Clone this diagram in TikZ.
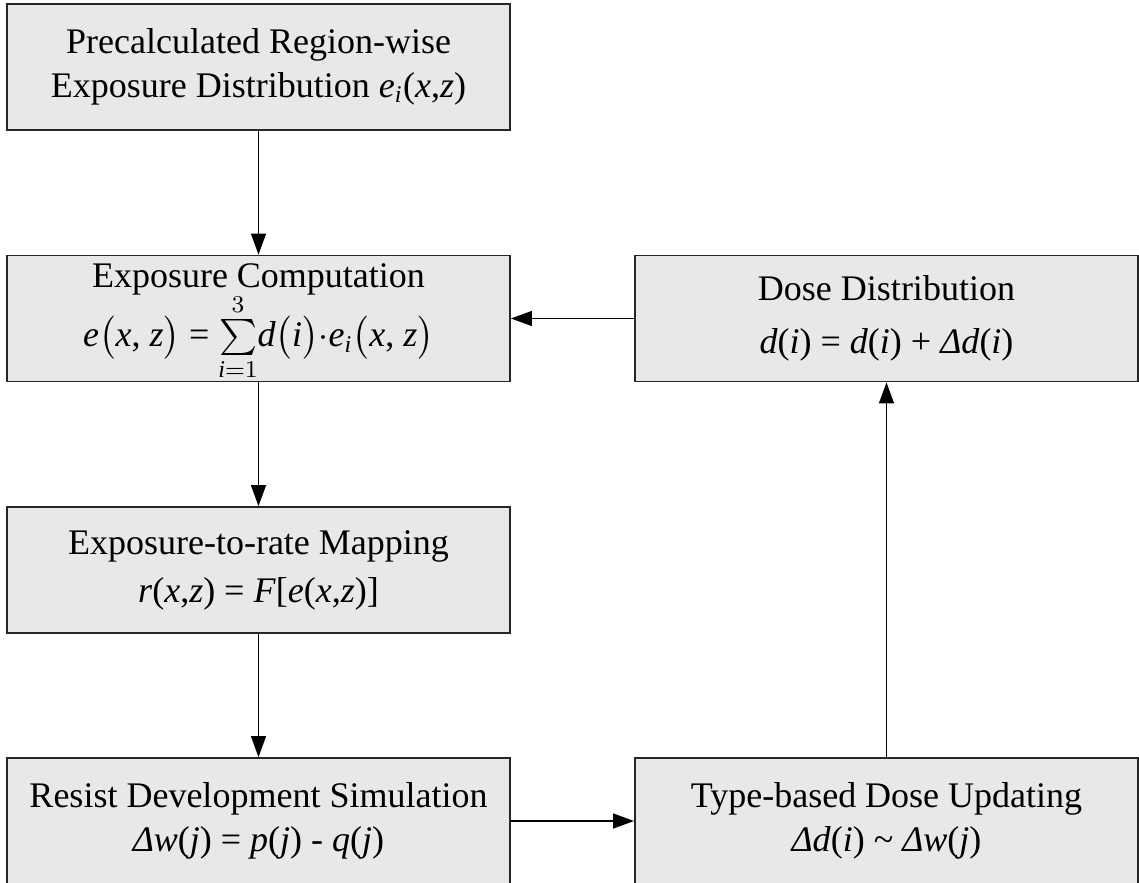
\documentclass[tikz,border=0pt,12pt]{standalone}
\usepackage{fontspec}
\setmainfont{Liberation Serif}
\usepackage{amsmath}
\usetikzlibrary{shapes,arrows.meta}

% italic symbols written as text, so they stay in the serif face
\newcommand{\iv}[1]{\textit{#1}}

\tikzset{
  block/.style={draw=black!85, line width=0.6pt, fill=black!9,
    minimum width=167.7pt, minimum height=42pt, align=center, inner sep=0pt},
  flow/.style={-{Triangle[length=7pt,width=5pt]}, line width=0.45pt},
}

\begin{document}
\begin{tikzpicture}[x=0.3333pt, y=-0.3333pt]
      % Sizes
      \pgfmathsetmacro{\colL}{258.5}
      \pgfmathsetmacro{\colR}{886.5}
      \pgfmathsetmacro{\rowA}{67}
      \pgfmathsetmacro{\rowB}{318.5}
      \pgfmathsetmacro{\rowC}{570}
      \pgfmathsetmacro{\rowD}{821}
      \useasboundingbox (0,0) rectangle (1139,883);

      % blocks
      \node[block] (pre) at (\colL, \rowA)
        {Precalculated Region-wise\\Exposure Distribution \iv{e\textsubscript{i}}(\iv{x},\iv{z})};
      % the sum line is smashed, its gap and depth are set by hand
      \node[block] (comp) at (\colL, \rowB)
        {Exposure Computation\\[5.2pt]
         \smash{\iv{e}$\bigl($\iv{x}, \iv{z}$\bigr)$ = $\sum\limits_{\iv{i}=1}^{3}$\iv{d}$\bigl($\iv{i}$\bigr)\cdot$\iv{e}\textsubscript{\iv{i}}$\bigl($\iv{x}, \iv{z}$\bigr)$}\rule[-8.8pt]{0pt}{0pt}};
      \node[block] (dose) at (\colR, \rowB)
        {Dose Distribution\\[3pt]\iv{d}(\iv{i}) = \iv{d}(\iv{i}) + \iv{Δd}(\iv{i})};
      \node[block] (map) at (\colL, \rowC)
        {Exposure-to-rate Mapping\\[1.5pt]\iv{r}(\iv{x},\iv{z}) = \iv{F}[\iv{e}(\iv{x},\iv{z})]};
      \node[block] (sim) at (\colL, \rowD)
        {Resist Development Simulation\\\iv{Δw}(\iv{j}) = \iv{p}(\iv{j}) - \iv{q}(\iv{j})};
      \node[block] (upd) at (\colR, \rowD)
        {Type-based Dose Updating\\\iv{Δd}(\iv{i}) \textasciitilde{} \iv{Δw}(\iv{j})};

      % connectors
      \draw[flow] (pre) -- (comp);
      \draw[flow] (comp) -- (map);
      \draw[flow] (map) -- (sim);
      \draw[flow] (sim) -- (upd);
      \draw[flow] (upd) -- (dose);
      \draw[flow] (dose) -- (comp);
\end{tikzpicture}
\end{document}
